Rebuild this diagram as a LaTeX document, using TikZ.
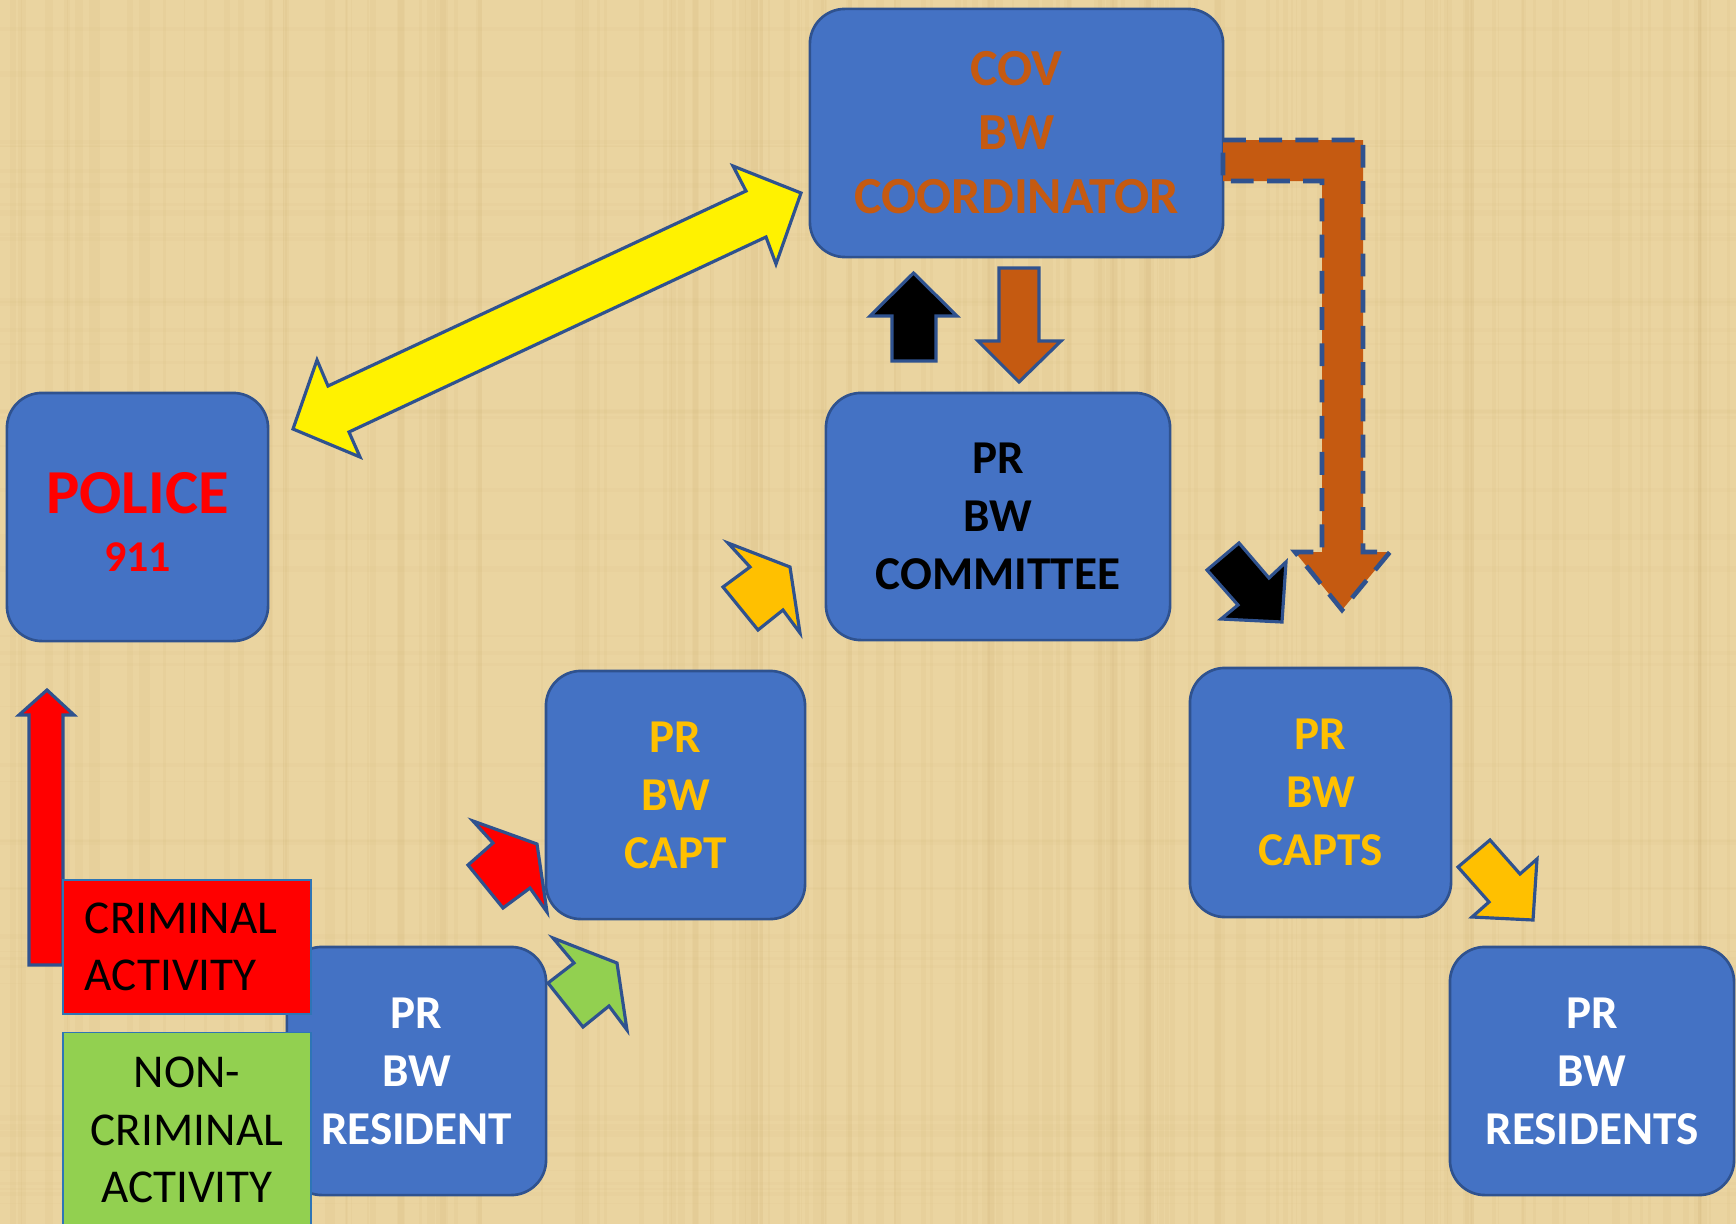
\documentclass[tikz,border=0pt]{standalone}
\usepackage{fontspec}
\setmainfont{Carlito}
\usetikzlibrary{positioning}

\definecolor{paper}{RGB}{234,212,160}
\definecolor{fibre}{RGB}{196,160,96}
\definecolor{boxblue}{RGB}{68,114,196}
\definecolor{boxline}{RGB}{47,82,143}
\definecolor{covorange}{RGB}{197,90,17}
\definecolor{capgold}{RGB}{255,192,0}
\definecolor{ncgreen}{RGB}{146,208,80}
\definecolor{catline}{RGB}{46,117,182}

\begin{document}
\begin{tikzpicture}[x=0.01cm, y=-0.01cm,
    box/.style={rectangle, rounded corners=0.35cm, draw=boxline, line width=0.75pt,
      fill=boxblue, align=center, inner sep=0pt,
      font=\fontsize{13.4}{16.5}\selectfont\bfseries},
    catbox/.style={rectangle, draw=catline, line width=0.4pt, inner sep=0pt,
      font=\fontsize{13.4}{16.4}\selectfont},
    barrow/.style={draw=boxline, line width=0.9pt, line join=miter}]
    \useasboundingbox (0,0) rectangle (1736,1224);
    \fill[paper] (0,0) rectangle (1736,1224);
    % papyrus fibres
    \pgfmathsetseed{7}
    \foreach \i in {1,...,160} {
      \pgfmathsetmacro{\fx}{random(0,1736)}
      \pgfmathsetmacro{\fw}{random(1,8)}
      \fill[fibre, opacity=0.07] (\fx,0) rectangle ++(\fw,1224);
    }
    \foreach \i in {1,...,50} {
      \pgfmathsetmacro{\fy}{random(0,1224)}
      \pgfmathsetmacro{\fh}{random(1,6)}
      \fill[fibre, opacity=0.04] (0,\fy) rectangle ++(1736,\fh);
    }
    % red arrow up to police
    \draw[barrow, fill=red] (29,965) -- (29,715) -- (19,715) -- (47,690) -- (74,715) -- (63,715) -- (63,965) -- cycle;
    \node[box, minimum width=4.13cm, minimum height=2.48cm, text=covorange,
      font=\fontsize{14.8}{18.2}\selectfont\bfseries] (cov) at (1016.5,133) {COV\\BW\\COORDINATOR};
    \node[box, minimum width=3.44cm, minimum height=2.47cm, text=black] (committee) at (998,516.5) {PR\\BW\\COMMITTEE};
    \node[box, minimum width=2.61cm, minimum height=2.48cm, text=red,
      font=\fontsize{17.8}{16.5}\selectfont\bfseries] (police) at (137.5,517) {\rule{0pt}{14.7pt}POLICE\\{\fontsize{12.5}{15}\selectfont 911}};
    \node[box, minimum width=2.59cm, minimum height=2.48cm, text=capgold] (capt) at (675.5,795) {PR\\BW\\CAPT};
    \node[box, minimum width=2.61cm, minimum height=2.49cm, text=capgold] (capts) at (1320.5,792.5) {PR\\BW\\CAPTS};
    \node[box, minimum width=2.59cm, minimum height=2.48cm, text=white] (resident) at (416.5,1071) {PR\\BW\\RESIDENT};
    \node[box, minimum width=2.84cm, minimum height=2.48cm, text=white] (residents) at (1592,1071) {PR\\BW\\RESIDENTS};
    % activity boxes
    \node[catbox, fill=red, minimum width=2.48cm, minimum height=1.34cm, inner xsep=0.22cm,
      text width=2.04cm, align=left] (crim) at (187,947) {CRIMINAL\\ACTIVITY};
    \node[catbox, fill=ncgreen, minimum width=2.48cm, minimum height=2.2cm, anchor=north] (noncrim) at (187,1032) {};
    \node[catbox, draw=none, align=center] (nctext) at (187,1130) {NON-\\CRIMINAL\\ACTIVITY};
    % police <-> coordinator
    \draw[barrow, fill=yellow] (293,429) -- (317,360) -- (328,386) -- (746,191) -- (733,166) -- (801,193)
      -- (776,264) -- (766,237) -- (349,432) -- (360,457) -- cycle;
    % coordinator <-> committee
    \draw[barrow, fill=black] (892,361) -- (892,316) -- (870,316) -- (913.5,273) -- (957,316) -- (936,316) -- (936,361) -- cycle;
    \draw[barrow, fill=covorange] (999,268) -- (1039,268) -- (1039,341) -- (1061,341) -- (1019,382) -- (978,341) -- (999,341) -- cycle;
    % coordinator to captains
    \draw[barrow, fill=covorange, line width=1.3pt, dash pattern=on 6.5pt off 3.8pt] (1223,140) -- (1363,140) -- (1363,552)
      -- (1390,552) -- (1342,610) -- (1295,552) -- (1322,552) -- (1322,181) -- (1223,181) -- cycle;
    \draw[barrow, fill=black] (1207,570) -- (1239,543) -- (1269,578) -- (1286,562) -- (1282,622) -- (1221,619) -- (1238,605) -- cycle;
    \draw[barrow, fill=capgold] (1458,867) -- (1490,840) -- (1520,874) -- (1537,859) -- (1533,920) -- (1472,917) -- (1489,902) -- cycle;
    % captain, resident
    \draw[barrow, fill=capgold] (728,543) -- (790,567) -- (800,633) -- (783,610) -- (758,630) -- (723,587) -- (750,567) -- cycle;
    \draw[barrow, fill=red] (473,821) -- (537,844) -- (547,912) -- (530,888) -- (503,908) -- (468,865) -- (493,843) -- cycle;
    \draw[barrow, fill=ncgreen] (553,938) -- (617,963) -- (627,1030) -- (609,1006) -- (583,1027) -- (548,983) -- (574,963) -- cycle;
\end{tikzpicture}
\end{document}
